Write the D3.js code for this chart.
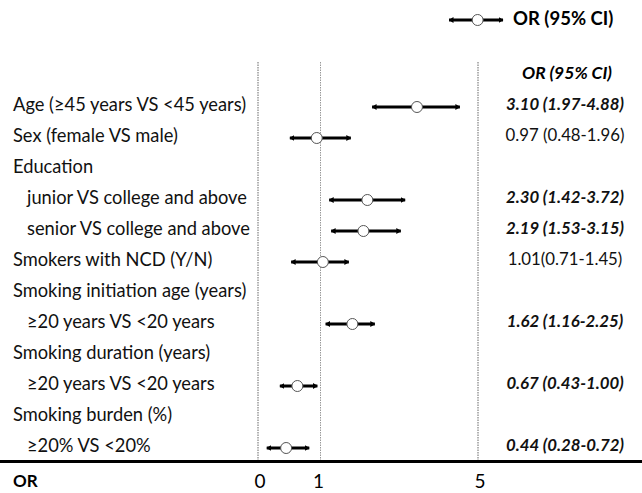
<!DOCTYPE html>
<html>
<head>
<meta charset="utf-8">
<script src="https://cdn.jsdelivr.net/npm/d3@7"></script>
<style>
  body { margin: 0; background: #fff; }
</style>
</head>
<body>
<div id="chart"></div>
<script>
// Forest plot of odds ratios
const width = 642;
const height = 493;

// Row labels (indent 1 = sub level)
const rowLabels = [
    'Age (≥45 years VS <45 years)',
    'Sex (female VS male)',
    'Education',
    'junior VS college and above',
    'senior VS college and above',
    'Smokers with NCD (Y/N)',
    'Smoking initiation age (years)',
    '≥20 years VS <20 years',
    'Smoking duration (years)',
    '≥20 years VS <20 years',
    'Smoking burden (%)',
    '≥20% VS <20%'
];
const rowIndent = [0, 0, 0, 1, 1, 0, 0, 1, 0, 1, 0, 1];

// OR text column, bold italic when significant
const orText = [
    '3.10 (1.97-4.88)', '0.97 (0.48-1.96)', '', '2.30 (1.42-3.72)',
    '2.19 (1.53-3.15)', '1.01(0.71-1.45)', '', '1.62 (1.16-2.25)',
    '', '0.67 (0.43-1.00)', '', '0.44 (0.28-0.72)'
];
const significant = [1, 0, 0, 1, 1, 0, 0, 1, 0, 1, 0, 1];

// positions of the drawn marks read against the 0 / 1 / 5 axis
const plotLow  = [2.31, 0.51, null, 1.22, 1.27, 0.53, null, 1.13, null, 0.35, null, 0.14];
const plotMid  = [3.45, 0.94, null, 2.19, 2.09, 1.06, null, 1.81, null, 0.63, null, 0.45];
const plotHigh = [4.54, 1.77, null, 3.15, 3.04, 1.72, null, 2.38, null, 0.95, null, 0.82];

const axisTicks = [0, 1, 5];

const font = 'Lato, sans-serif';

const svg = d3.select('#chart')
    .append('svg')
    .attr('width', width)
    .attr('height', height);

svg.append('rect')
    .attr('width', width)
    .attr('height', height)
    .attr('fill', '#fff');

// x scale: the axis is not linear, 0-1 is stretched
const x = d3.scaleLinear()
    .domain([0, 1, 5])
    .range([258, 320.5, 478]);

const y = d3.scalePoint()
    .domain(d3.range(rowLabels.length))
    .range([106, 447]);

const axisY = 461.5;

// arrow head marker
const defs = svg.append('defs');
defs.append('marker')
    .attr('id', 'arrow')
    .attr('viewBox', '0 0 5 6')
    .attr('markerWidth', 5)
    .attr('markerHeight', 6)
    .attr('refX', 4.5)
    .attr('refY', 3)
    .attr('markerUnits', 'userSpaceOnUse')
    .attr('orient', 'auto-start-reverse')
    .append('path')
    .attr('d', 'M0,0 L5,3 L0,6 Z')
    .attr('fill', '#000');

// reference lines
axisTicks.forEach(t => {
    svg.append('line')
        .attr('x1', x(t))
        .attr('x2', x(t))
        .attr('y1', 62)
        .attr('y2', axisY)
        .attr('stroke', t === 1 ? '#999' : '#666')
        .attr('stroke-width', 1)
        .attr('stroke-dasharray', '1.5,1');
});

// bottom axis line
svg.append('line')
    .attr('x1', 0)
    .attr('x2', width)
    .attr('y1', axisY)
    .attr('y2', axisY)
    .attr('stroke', '#000')
    .attr('stroke-width', 3);

svg.append('text')
    .attr('x', 13)
    .attr('y', 483)
    .attr('dominant-baseline', 'middle')
    .attr('font-family', font)
    .attr('font-size', '17px')
    .attr('font-weight', 'bold')
    .text('OR');

svg.selectAll('.tick-label')
    .data(axisTicks)
    .enter()
    .append('text')
    .attr('class', 'tick-label')
    .attr('x', d => x(d) + (d === 1 ? -2 : 2))
    .attr('y', 483)
    .attr('text-anchor', 'middle')
    .attr('dominant-baseline', 'middle')
    .attr('font-family', font)
    .attr('font-size', '19px')
    .text(d => d);

// row labels
svg.selectAll('.row-label')
    .data(rowLabels)
    .enter()
    .append('text')
    .attr('class', 'row-label')
    .attr('x', (d, i) => rowIndent[i] ? 27 : 13)
    .attr('y', (d, i) => y(i))
    .attr('dominant-baseline', 'middle')
    .attr('font-family', font)
    .attr('font-size', '18.3px')
    .attr('fill', '#111')
    .text(d => d);

// OR column header
svg.append('text')
    .attr('x', 567)
    .attr('y', 75)
    .attr('text-anchor', 'middle')
    .attr('dominant-baseline', 'middle')
    .attr('font-family', font)
    .attr('font-size', '17.5px')
    .attr('font-weight', 'bold')
    .attr('font-style', 'italic')
    .text('OR (95% CI)');

svg.selectAll('.or-text')
    .data(orText)
    .enter()
    .append('text')
    .attr('class', 'or-text')
    .attr('x', 565)
    .attr('y', (d, i) => y(i))
    .attr('text-anchor', 'middle')
    .attr('dominant-baseline', 'middle')
    .attr('font-family', font)
    .attr('font-size', '16.8px')
    .attr('font-weight', (d, i) => significant[i] ? 'bold' : 'normal')
    .attr('font-style', (d, i) => significant[i] ? 'italic' : 'normal')
    .attr('fill', '#111')
    .text(d => d);

// confidence intervals and points
const rows = d3.range(rowLabels.length).filter(i => plotMid[i] !== null);

svg.selectAll('.ci')
    .data(rows)
    .enter()
    .append('line')
    .attr('class', 'ci')
    .attr('x1', i => x(plotLow[i]))
    .attr('x2', i => x(plotHigh[i]))
    .attr('y1', i => y(i) + 1)
    .attr('y2', i => y(i) + 1)
    .attr('stroke', '#000')
    .attr('stroke-width', 3)
    .attr('marker-start', 'url(#arrow)')
    .attr('marker-end', 'url(#arrow)');

svg.selectAll('.point')
    .data(rows)
    .enter()
    .append('circle')
    .attr('class', 'point')
    .attr('cx', i => x(plotMid[i]))
    .attr('cy', i => y(i) + 1)
    .attr('r', 5.5)
    .attr('fill', '#fff')
    .attr('stroke', '#555')
    .attr('stroke-width', 1);

// legend
const legendY = 20;
const legendX = d3.scaleLinear().domain([0, 1]).range([449, 503]);
svg.append('line')
    .attr('x1', legendX(0))
    .attr('x2', legendX(1))
    .attr('y1', legendY)
    .attr('y2', legendY)
    .attr('stroke', '#000')
    .attr('stroke-width', 3)
    .attr('marker-start', 'url(#arrow)')
    .attr('marker-end', 'url(#arrow)');

svg.append('circle')
    .attr('cx', legendX(0.53))
    .attr('cy', legendY)
    .attr('r', 5.5)
    .attr('fill', '#fff')
    .attr('stroke', '#555');

svg.append('text')
    .attr('x', 513)
    .attr('y', legendY)
    .attr('dominant-baseline', 'middle')
    .attr('font-family', font)
    .attr('font-size', '18.5px')
    .attr('font-weight', 'bold')
    .text('OR (95% CI)');
</script>
</body>
</html>
